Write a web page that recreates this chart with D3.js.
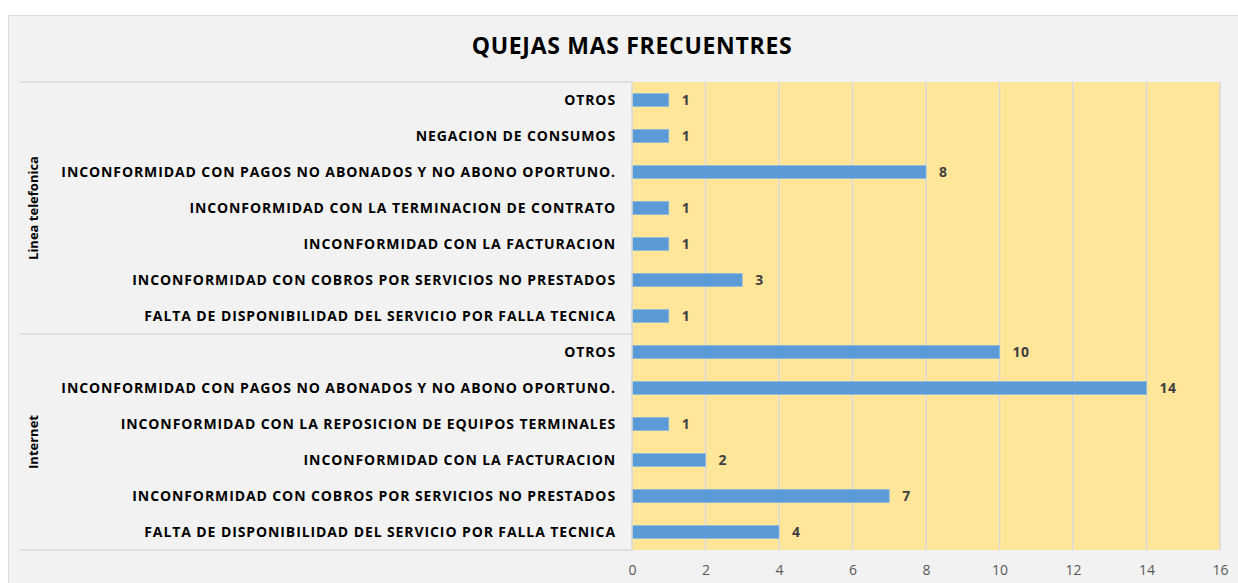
<!DOCTYPE html>
<html>
<head>
<meta charset="utf-8">
<script src="https://cdn.jsdelivr.net/npm/d3@7"></script>
<style>
  html, body { margin: 0; padding: 0; background: #fff; }
  svg { display: block; font-family: "Open Sans", sans-serif; }
</style>
</head>
<body>
<svg id="chart"></svg>
<script>
// datos (de arriba hacia abajo)
const grupos = ["Linea telefonica", "Internet"];
const categoriasTelefonia = [
  "OTROS",
  "NEGACION DE CONSUMOS",
  "INCONFORMIDAD CON PAGOS NO ABONADOS Y NO ABONO OPORTUNO.",
  "INCONFORMIDAD CON LA TERMINACION DE CONTRATO",
  "INCONFORMIDAD CON LA FACTURACION",
  "INCONFORMIDAD CON COBROS POR SERVICIOS NO PRESTADOS",
  "FALTA DE DISPONIBILIDAD DEL SERVICIO POR FALLA TECNICA"
];
const valoresTelefonia = [1, 1, 8, 1, 1, 3, 1];
const categoriasInternet = [
  "OTROS",
  "INCONFORMIDAD CON PAGOS NO ABONADOS Y NO ABONO OPORTUNO.",
  "INCONFORMIDAD CON LA REPOSICION DE EQUIPOS TERMINALES",
  "INCONFORMIDAD CON LA FACTURACION",
  "INCONFORMIDAD CON COBROS POR SERVICIOS NO PRESTADOS",
  "FALTA DE DISPONIBILIDAD DEL SERVICIO POR FALLA TECNICA"
];
const valoresInternet = [10, 14, 1, 2, 7, 4];
const ticksX = [0, 2, 4, 6, 8, 10, 12, 14, 16];

// armar filas
const filas = [];
categoriasTelefonia.forEach((c, i) => filas.push({ id: "t" + i, grupo: grupos[0], cat: c, valor: valoresTelefonia[i] }));
categoriasInternet.forEach((c, i) => filas.push({ id: "i" + i, grupo: grupos[1], cat: c, valor: valoresInternet[i] }));

const W = 1238, H = 583;
const margin = { top: 82, right: 18, bottom: 33, left: 632 };
const width = W - margin.left - margin.right;
const height = H - margin.top - margin.bottom;

const svg = d3.select("#chart").attr("width", W).attr("height", H);

// fondo del grafico
svg.append("rect")
  .attr("x", 8.5).attr("y", 15.5)
  .attr("width", W).attr("height", H)
  .attr("fill", "#f2f2f2").attr("stroke", "#d9d9d9");

// titulo
svg.append("text")
  .attr("x", 632).attr("y", 54)
  .attr("text-anchor", "middle")
  .style("font-size", "23px").style("font-weight", "bold")
  .style("letter-spacing", "0.7px")
  .attr("fill", "#000")
  .text("QUEJAS MAS FRECUENTRES");

const g = svg.append("g").attr("transform", `translate(${margin.left},${margin.top})`);

const x = d3.scaleLinear().domain([0, 16]).range([0, width]);
const y = d3.scaleBand().domain(filas.map(d => d.id)).range([0, height]).paddingInner(0.64).paddingOuter(0.32);

// area de trazado
g.append("rect").attr("width", width).attr("height", height).attr("fill", "#ffe699");

// lineas de division verticales
g.append("g").selectAll("line")
  .data(ticksX.slice(1))
  .join("line")
  .attr("x1", d => x(d)).attr("x2", d => x(d))
  .attr("y1", 0).attr("y2", height)
  .attr("stroke", "#d9d9d9").attr("stroke-width", 1.5);

// eje X
const ejeX = g.append("g")
  .attr("transform", `translate(0,${height})`)
  .call(d3.axisBottom(x).tickValues(ticksX).tickSize(0).tickPadding(15));
ejeX.select(".domain").remove();
ejeX.selectAll("text")
  .style("font-family", "'Open Sans', sans-serif")
  .style("font-size", "14px").attr("fill", "#595959");

// barras
g.selectAll(".barra")
  .data(filas)
  .join("rect")
  .attr("class", "barra")
  .attr("x", 0)
  .attr("y", d => y(d.id))
  .attr("width", d => x(d.valor))
  .attr("height", y.bandwidth())
  .attr("fill", "#5b9bd5")
  .attr("stroke", "#8fb9e3").attr("stroke-width", 0.8);

// etiquetas de valor
g.selectAll(".valor")
  .data(filas)
  .join("text")
  .attr("class", "valor")
  .attr("x", d => x(d.valor) + 13)
  .attr("y", d => y(d.id) + y.bandwidth() / 2)
  .attr("dy", "0.36em")
  .style("font-size", "14px").style("font-weight", "bold")
  .style("letter-spacing", "0.5px")
  .attr("fill", "#404040")
  .text(d => d.valor);

// etiquetas de categoria
g.selectAll(".cat")
  .data(filas)
  .join("text")
  .attr("class", "cat")
  .attr("x", -16)
  .attr("y", d => y(d.id) + y.bandwidth() / 2)
  .attr("dy", "0.36em")
  .attr("text-anchor", "end")
  .style("font-size", "14px").style("font-weight", "bold")
  .style("letter-spacing", "0.9px")
  .attr("fill", "#000")
  .text(d => d.cat);

// separadores de grupo y etiquetas de grupo
const paso = y.step();
const limites = grupos.map(gr => {
  const f = filas.filter(d => d.grupo === gr);
  const y0 = y(f[0].id) - paso * y.paddingInner() / 2;
  const y1 = y(f[f.length - 1].id) + y.bandwidth() + paso * y.paddingInner() / 2;
  return { grupo: gr, y0: Math.max(0, y0), y1: Math.min(height, y1) };
});
const lineasY = [0, ...limites.map(d => d.y1)];
g.selectAll(".sep")
  .data(lineasY)
  .join("line")
  .attr("class", "sep")
  .attr("x1", 20 - margin.left).attr("x2", 0)
  .attr("y1", d => d).attr("y2", d => d)
  .attr("stroke", "#d9d9d9").attr("stroke-width", 1.5);
g.append("line")
  .attr("x1", 0).attr("x2", 0).attr("y1", 0).attr("y2", height)
  .attr("stroke", "#d9d9d9").attr("stroke-width", 1.5);

g.selectAll(".grupo")
  .data(limites)
  .join("text")
  .attr("class", "grupo")
  .attr("transform", d => `translate(${38 - margin.left},${(d.y0 + d.y1) / 2}) rotate(-90)`)
  .attr("text-anchor", "middle")
  .style("font-size", "13px").style("font-weight", "bold")
  .attr("fill", "#000")
  .text(d => d.grupo);
</script>
</body>
</html>
